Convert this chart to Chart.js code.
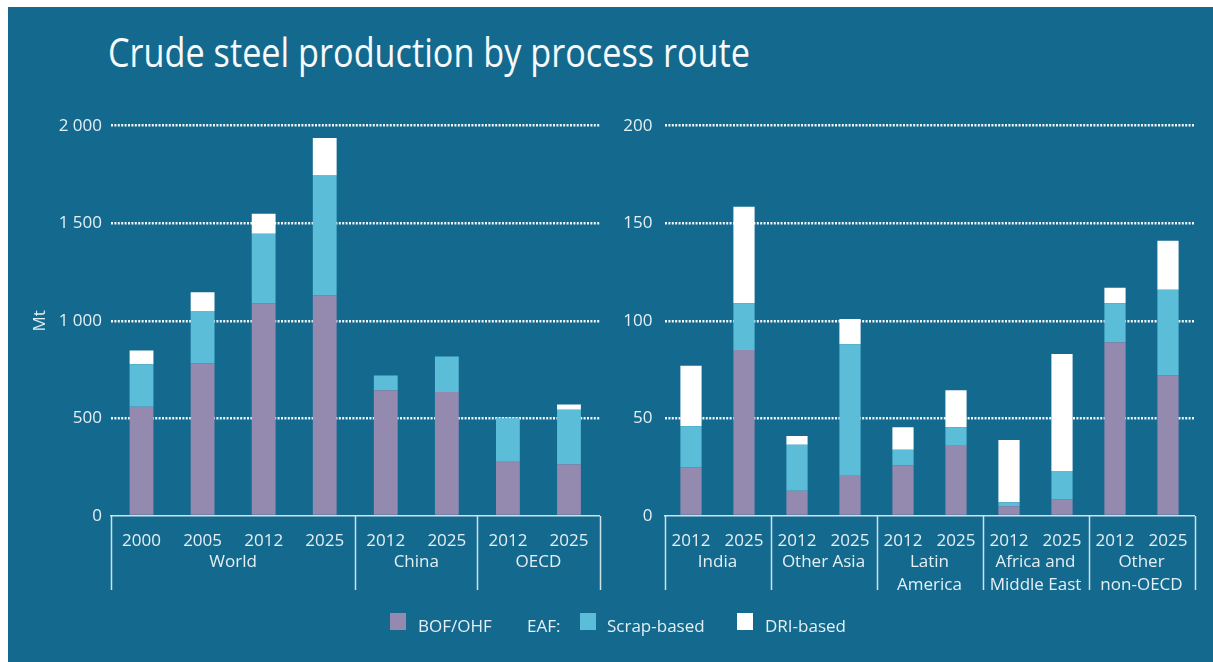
<!DOCTYPE html>
<html>
<head>
<meta charset="utf-8">
<script src="https://cdn.jsdelivr.net/npm/chart.js@4"></script>
<style>
  html, body { margin: 0; padding: 0; background: #ffffff; width: 1213px; height: 662px; overflow: hidden; }
  #bg { position: absolute; left: 8px; top: 7px; width: 1205px; height: 655px; background: #146a8e; }
  #title { position: absolute; left: 108px; top: 24px; font-family: "Open Sans", sans-serif; font-size: 40px; font-weight: 500; color: #f6fafc; white-space: nowrap; transform-origin: 0 0; line-height: 56px; }
  canvas { position: absolute; top: 0; }
  #c1 { left: 0; }
  #c2 { left: 610px; }
  .lg { position: absolute; font-family: "Open Sans", sans-serif; font-size: 17px; color: #e4eff4; top: 614px; line-height: 24px; white-space: nowrap; }
  .sw { position: absolute; top: 613px; width: 16px; height: 17px; }
</style>
</head>
<body>
<div id="bg"></div>
<div id="title">Crude steel production by process route</div>
<canvas id="c1" width="610" height="662"></canvas>
<canvas id="c2" width="603" height="662"></canvas>
<div class="sw" style="left:390px;background:#948ab0"></div>
<div class="lg" style="left:418px">BOF/OHF</div>
<div class="lg" style="left:527px">EAF:</div>
<div class="sw" style="left:580px;background:#5bbdd7"></div>
<div class="lg" style="left:607px">Scrap-based</div>
<div class="sw" style="left:737px;background:#ffffff"></div>
<div class="lg" style="left:765px">DRI-based</div>
<script>
// ---- data ----
const leftYears = ['2000', '2005', '2012', '2025', '2012', '2025', '2012', '2025'];
const leftGroupNames = [['World'], ['China'], ['OECD']];
const leftGroupSizes = [4, 2, 2];
const leftBOF   = [560, 783, 1089, 1130, 644, 636, 282, 265];
const leftScrap = [218, 268, 357, 615, 76, 181, 219, 279];
const leftDRI   = [70, 96, 103, 192, 0, 0, 3, 27];
const leftTicks = [0, 500, 1000, 1500, 2000];

const rightYears = ['2012', '2025', '2012', '2025', '2012', '2025', '2012', '2025', '2012', '2025'];
const rightGroupNames = [['India'], ['Other Asia'], ['Latin', 'America'], ['Africa and', 'Middle East'], ['Other', 'non-OECD']];
const rightGroupSizes = [2, 2, 2, 2, 2];
const rightBOF   = [25, 85, 13, 21, 26, 36, 5, 8.5, 89, 72];
const rightScrap = [21, 24, 23.5, 67, 8, 9.5, 2, 14.5, 20, 44];
const rightDRI   = [31, 49.5, 4.5, 13, 11.5, 19, 32, 60, 8, 25];
const rightTicks = [0, 50, 100, 150, 200];

const seriesNames = ['BOF/OHF', 'EAF: Scrap-based', 'DRI-based'];
const seriesColors = ['#948ab0', '#5bbdd7', '#ffffff'];

// ---- title fit ----
const t = document.getElementById('title');
const tw = t.getBoundingClientRect().width;
t.style.transform = 'scaleX(' + (642 / tw) + ')';

const FONT = '"Open Sans", sans-serif';
const TXT = '#e4eff4';
const LINE = '#cfe2ea';

const groupPlugin = {
  id: 'groups',
  afterDraw(chart, args, opts) {
    const ctx = chart.ctx;
    const xs = chart.scales.x;
    const area = chart.chartArea;
    const y0 = area.bottom;
    const y1 = y0 + 74;
    ctx.save();
    ctx.strokeStyle = LINE;
    ctx.lineWidth = 1.5;
    const bounds = [area.left];
    let idx = 0;
    const centers = [];
    opts.sizes.forEach((n, g) => {
      const first = idx, last = idx + n - 1;
      centers.push((xs.getPixelForValue(first) + xs.getPixelForValue(last)) / 2);
      idx += n;
      if (g < opts.sizes.length - 1) {
        bounds.push((xs.getPixelForValue(last) + xs.getPixelForValue(last + 1)) / 2);
      }
    });
    bounds.push(area.right);
    bounds.forEach(x => {
      ctx.beginPath();
      ctx.moveTo(Math.round(x) + 0.5, y0);
      ctx.lineTo(Math.round(x) + 0.5, y1);
      ctx.stroke();
    });
    ctx.fillStyle = TXT;
    ctx.font = '17px ' + FONT;
    ctx.textAlign = 'center';
    ctx.textBaseline = 'middle';
    opts.names.forEach((lines, g) => {
      lines.forEach((s, k) => {
        ctx.fillText(s, centers[g], y0 + 46 + k * 23);
      });
    });
    ctx.restore();
  }
};

function fmt(v) {
  return v >= 1000 ? String(v).replace(/(\d)(?=(\d{3})$)/, '$1 ') : String(v);
}

function makeChart(id, years, bof, scrap, dri, ticks, names, sizes, cfg) {
  const data = {
    labels: years,
    datasets: [bof, scrap, dri].map((d, i) => ({
      label: seriesNames[i],
      data: d,
      backgroundColor: seriesColors[i],
      borderWidth: 0,
      barPercentage: cfg.barPct,
      categoryPercentage: 1.0
    }))
  };
  return new Chart(document.getElementById(id), {
    type: 'bar',
    data,
    plugins: [groupPlugin],
    options: {
      responsive: false,
      animation: false,
      layout: { padding: { top: 125.7, right: cfg.padRight, left: 0, bottom: 0 } },
      plugins: {
        legend: { display: false },
        tooltip: { enabled: false },
        groups: { names, sizes }
      },
      scales: {
        x: {
          stacked: true,
          grid: { display: false },
          border: { display: true, color: LINE, width: 1.5 },
          ticks: { color: TXT, font: { family: FONT, size: 17 }, padding: 7, maxRotation: 0, autoSkip: false },
          afterFit(s) { s.height = 146; }
        },
        y: {
          stacked: true,
          min: ticks[0],
          max: ticks[ticks.length - 1],
          afterBuildTicks(s) { s.ticks = ticks.map(v => ({ value: v })); },
          grid: {
            drawTicks: false,
            lineWidth: 2.6,
            color: c => (c.tick && c.tick.value === 0) ? 'rgba(0,0,0,0)' : 'rgba(255,255,255,0.95)'
          },
          border: { display: false, dash: [2, 1.4] },
          ticks: { color: TXT, font: { family: FONT, size: 17 }, padding: cfg.tickPad, callback: v => fmt(v) },
          title: cfg.title ? { display: true, text: 'Mt', color: TXT, font: { family: FONT, size: 17 }, padding: { top: 30 } } : { display: false },
          afterFit(s) { s.width = cfg.yWidth; }
        }
      }
    }
  });
}

makeChart('c1', leftYears, leftBOF, leftScrap, leftDRI, leftTicks, leftGroupNames, leftGroupSizes,
  { barPct: 0.39, padRight: 10.5, yWidth: 111, tickPad: 9, title: true });
makeChart('c2', rightYears, rightBOF, rightScrap, rightDRI, rightTicks, rightGroupNames, rightGroupSizes,
  { barPct: 0.40, padRight: 18.5, yWidth: 54.5, tickPad: 12, title: false });
</script>
</body>
</html>
